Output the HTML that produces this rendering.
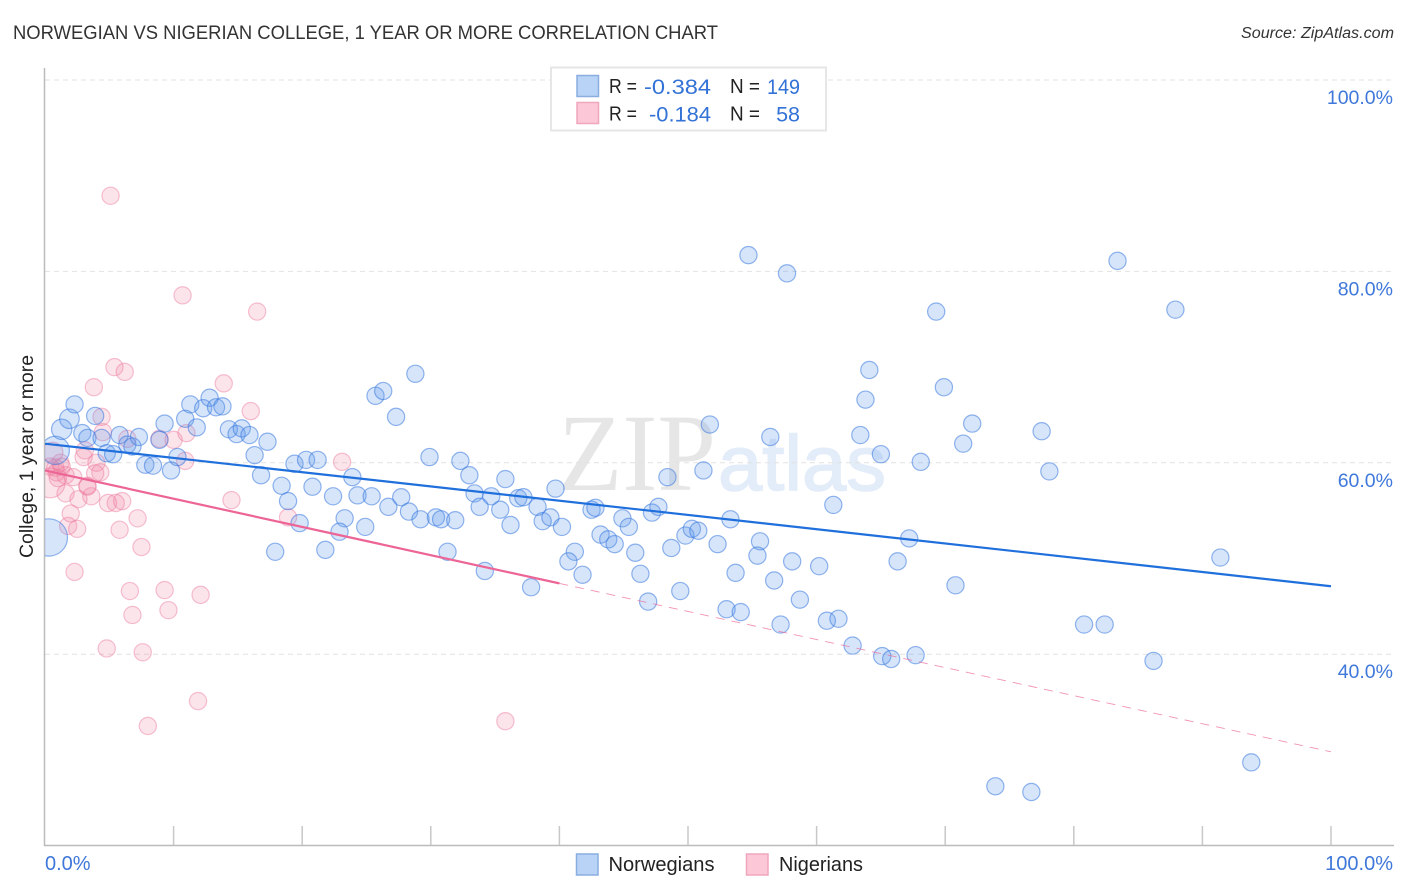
<!DOCTYPE html>
<html lang="en">
<head>
<meta charset="utf-8">
<title>Norwegian vs Nigerian College Correlation Chart</title>
<style>
html,body{margin:0;padding:0;background:#fff;}
body{width:1406px;height:892px;overflow:hidden;}
svg{display:block;font-family:"Liberation Sans",sans-serif;}
</style>
</head>
<body>
<svg id="chart" xmlns="http://www.w3.org/2000/svg" width="1406" height="892" viewBox="0 0 1406 892">
  <defs>
    <clipPath id="plot-clip"><rect x="45" y="60" width="1349" height="785"/></clipPath>
  </defs>
  <rect x="0" y="0" width="1406" height="892" fill="#ffffff"/>
  <text x="13" y="39" font-size="19" fill="#333333" textLength="705" lengthAdjust="spacingAndGlyphs">NORWEGIAN VS NIGERIAN COLLEGE, 1 YEAR OR MORE CORRELATION CHART</text>
  <text x="1394" y="38" font-size="15.5" font-style="italic" fill="#333333" text-anchor="end" textLength="153" lengthAdjust="spacingAndGlyphs">Source: ZipAtlas.com</text>
  <g>
    <text x="558" y="490" font-family="'Liberation Serif',serif" font-size="110" fill="#e6e6e6" textLength="158" lengthAdjust="spacingAndGlyphs">ZIP</text>
    <text x="718" y="490" font-size="78" fill="#e3ecf9" stroke="#e3ecf9" stroke-width="1.5" textLength="168" lengthAdjust="spacingAndGlyphs">atlas</text>
  </g>
  <g id="grid"></g>
  <g id="axes"></g>
  <g id="points" clip-path="url(#plot-clip)"></g>
  <g id="trends"></g>
  <text transform="translate(33,456.5) rotate(-90)" font-size="19.5" fill="#222222" text-anchor="middle" textLength="203" lengthAdjust="spacingAndGlyphs">College, 1 year or more</text>

  <g>
    <rect x="551" y="67.5" width="275" height="63" fill="#ffffff" stroke="#e6e6e6" stroke-width="2"/>
    <rect x="577" y="75.5" width="21.500" height="21" fill="#b8d3f6" stroke="#8aaee0" stroke-width="1.5"/>
    <rect x="577" y="102.500" width="21.500" height="21" fill="#fcc8d8" stroke="#f0a6bd" stroke-width="1.5"/>
    <g font-size="21">
      <text x="609" y="93" font-size="20" fill="#222222" textLength="28" lengthAdjust="spacingAndGlyphs">R =</text>
      <text x="644" y="94" fill="#3372d6" font-size="21.500" textLength="67" lengthAdjust="spacingAndGlyphs">-0.384</text>
      <text x="730" y="93" font-size="20" fill="#222222" textLength="30" lengthAdjust="spacingAndGlyphs">N =</text>
      <text x="767" y="94" fill="#3372d6" font-size="21.500" textLength="33" lengthAdjust="spacingAndGlyphs">149</text>
      <text x="609" y="120.500" font-size="20" fill="#222222" textLength="28" lengthAdjust="spacingAndGlyphs">R =</text>
      <text x="649" y="121.500" fill="#3372d6" font-size="21.500" textLength="62" lengthAdjust="spacingAndGlyphs">-0.184</text>
      <text x="730" y="120.500" font-size="20" fill="#222222" textLength="30" lengthAdjust="spacingAndGlyphs">N =</text>
      <text x="800" y="121.500" fill="#3372d6" text-anchor="end" font-size="21.500">58</text>
    </g>
  </g>

  <g>
    <rect x="576.500" y="854" width="21.500" height="21" fill="#b8d3f6" stroke="#8aaee0" stroke-width="1.5"/>
    <text x="608.500" y="871" font-size="20" fill="#222222" textLength="106" lengthAdjust="spacingAndGlyphs">Norwegians</text>
    <rect x="746.500" y="854" width="21.500" height="21" fill="#fcc8d8" stroke="#f0a6bd" stroke-width="1.5"/>
    <text x="779" y="871" font-size="20" fill="#222222" textLength="84" lengthAdjust="spacingAndGlyphs">Nigerians</text>
  </g>
</svg>
<script>
const yTickValues = [100, 80, 60, 40];
const yTickLabels = ['100.0%', '80.0%', '60.0%', '40.0%'];
const xTickValues = [10, 20, 30, 40, 50, 60, 70, 80, 90, 100];
const xEndValues = [0, 100];
const xEndLabels = ['0.0%', '100.0%'];

const norwegianX = [0.3,0.8,1.3,1.9,2.3,2.9,3.3,3.9,4.4,4.8,5.3,5.8,6.4,6.8,7.3,7.8,8.4,8.9,9.3,9.8,10.3,10.9,11.3,11.8,12.3,12.8,13.3,13.8,14.3,14.9,15.3,15.9,16.3,17.3,16.8,18.4,18.9,19.4,20.3,21.2,20.8,22.4,23.3,22.9,19.8,17.9,21.8,23.9,25.7,26.3,27.3,29.9,32.3,33.0,35.8,39.7,48.4,51.2,24.3,25.4,26.7,27.7,28.3,29.2,30.4,30.8,31.9,33.4,34.7,33.8,35.4,36.2,36.8,37.2,38.3,38.7,39.3,40.2,42.5,42.8,44.9,45.4,47.2,47.7,43.2,43.8,44.3,45.9,46.3,48.7,49.8,50.3,50.8,49.4,46.9,41.8,41.2,40.7,37.8,34.2,31.3,24.9,53.3,52.3,55.6,55.4,53.7,58.1,56.7,60.2,58.7,53.0,54.1,57.2,60.8,61.7,62.8,65.1,65.8,67.7,66.3,67.2,61.3,68.1,65.0,63.4,63.8,64.1,56.4,51.7,69.9,69.3,54.7,57.7,83.4,87.9,72.1,71.4,77.5,78.1,70.8,80.8,82.4,86.2,91.4,93.8,73.9,76.7,28.8];
const norwegianY = [52.2,61.3,63.5,64.6,66.1,63.1,62.6,64.9,62.6,61.0,60.9,62.9,61.9,61.7,62.7,59.8,59.7,62.4,64.1,59.2,60.6,64.6,66.1,63.7,65.7,66.8,65.8,65.9,63.5,63.0,63.6,62.9,60.8,62.2,58.7,57.6,56.0,59.9,60.3,60.3,57.5,56.5,54.2,52.8,53.7,50.7,50.9,58.5,67.0,67.5,64.8,60.6,60.2,58.7,58.3,57.3,58.5,59.2,56.6,56.5,55.4,56.4,54.9,54.1,54.3,54.1,54.0,56.8,56.5,55.4,55.1,53.5,56.3,56.4,55.4,53.9,54.3,53.3,55.1,55.3,54.2,53.3,54.8,55.4,52.5,52.0,51.5,50.6,48.4,51.1,52.4,53.1,52.9,46.6,45.5,48.3,50.7,49.7,47.0,48.7,50.7,53.3,54.1,51.5,51.8,50.3,48.5,49.7,47.7,49.2,45.7,44.7,44.4,43.1,43.5,43.7,40.9,39.8,39.5,39.9,49.7,52.1,55.6,60.1,60.9,62.9,66.6,69.7,62.7,64.0,67.9,75.8,81.7,79.8,81.1,76.0,64.1,62.0,63.3,59.1,47.2,43.1,43.1,39.3,50.1,28.7,26.2,25.6,69.3];
const norwegianWeights = [4.7,2.7,1.4,1.3];

const nigerianX = [5.4,6.2,3.8,13.9,16.0,4.4,4.5,3.1,3.0,0.6,6.4,8.9,10.0,11.0,10.9,23.1,4.0,4.3,3.9,0.4,0.8,1.3,0.9,0.4,1.6,1.0,2.2,1.6,3.3,2.6,3.6,4.9,5.5,6.0,7.2,5.8,7.5,14.5,18.9,2.0,1.8,2.5,2.3,6.6,9.3,12.1,5.1,10.7,16.5,6.8,9.6,4.8,7.6,11.9,8.0,35.8,1.2,3.3];
const nigerianY = [70.0,69.5,67.9,68.3,65.4,64.8,63.2,61.3,60.6,61.1,62.5,62.5,62.4,63.1,60.2,60.1,60.0,59.0,58.9,59.6,59.5,59.6,59.0,57.9,58.7,58.4,58.5,56.8,57.5,56.2,56.5,55.8,55.8,56.0,54.2,53.0,51.2,56.1,54.3,54.7,53.4,53.1,48.6,46.6,46.7,46.2,87.9,77.5,75.8,44.1,44.6,40.6,40.2,35.1,32.5,33.0,60.0,57.6];
const nigerianWeights = [1,1,1,1,1,1,1,1,1,1.4,1,1,1,1,1,1,1,1,1,1,1,1,1,3];

const norwegianTrendX = [0, 100];
const norwegianTrendY = [62.0, 47.1];
const nigerianTrendX = [0, 40, 100];
const nigerianTrendY = [59.2, 47.4, 29.8];

const NS = 'http://www.w3.org/2000/svg';
function xScale(v) { return 45 + v * 12.86; }
function yScale(v) { return 80 + (100 - v) * 9.57; }
function make(tag, attrs, parent) {
  const el = document.createElementNS(NS, tag);
  for (const k in attrs) el.setAttribute(k, attrs[k]);
  parent.appendChild(el);
  return el;
}
const gridG = document.getElementById('grid');
const axesG = document.getElementById('axes');
const pointsG = document.getElementById('points');
const trendsG = document.getElementById('trends');

yTickValues.forEach(function (v, i) {
  const line = make('line', {x1: 45, x2: 1394, y1: yScale(v), y2: yScale(v), stroke: '#e2e2e2', 'stroke-width': 1, 'stroke-dasharray': '5 4'}, gridG);
  
  
  const label = make('text', {x: 1393, y: yScale(v) + 24, 'font-size': 19.5, fill: '#3f78da', 'text-anchor': 'end'}, axesG);
  label.textContent = yTickLabels[i];
  
  
});

const yAxis = make('line', {x1: 44.5, x2: 44.5, y1: 68, y2: 846, stroke: '#bbbbbb', 'stroke-width': 1.5}, axesG);


const xAxis = make('line', {x1: 44, x2: 1394, y1: 845.5, y2: 845.5, stroke: '#bbbbbb', 'stroke-width': 1.5}, axesG);



xTickValues.forEach(function (v) {
  const tick = make('line', {x1: xScale(v), x2: xScale(v), y1: 826, y2: 845, stroke: '#c8c8c8', 'stroke-width': 1.5}, axesG);
  
  
});
xEndValues.forEach(function (v, i) {
  const label = make('text', {x: i === 0 ? xScale(v) : 1393, y: 870, 'font-size': 20, fill: '#3f78da', 'text-anchor': i === 0 ? 'start' : 'end'}, axesG);
  label.textContent = xEndLabels[i];
  
  
});

function radius(weights, i) { return 8.6 * Math.sqrt(weights[i] || 1); }

nigerianX.forEach(function (x, i) {
  const c = make('circle', {cx: xScale(x), cy: yScale(nigerianY[i]), r: radius(nigerianWeights, i), fill: 'rgba(243,130,165,0.22)', stroke: 'rgba(236,120,155,0.45)', 'stroke-width': 1.2}, pointsG);
  
  
});
norwegianX.forEach(function (x, i) {
  const c = make('circle', {cx: xScale(x), cy: yScale(norwegianY[i]), r: radius(norwegianWeights, i), fill: 'rgba(90,150,235,0.25)', stroke: 'rgba(50,115,220,0.52)', 'stroke-width': 1.2}, pointsG);
  
  
});

const blueTrend = make('line', {x1: xScale(norwegianTrendX[0]), y1: yScale(norwegianTrendY[0]), x2: xScale(norwegianTrendX[1]), y2: yScale(norwegianTrendY[1]), stroke: '#1f6fdc', 'stroke-width': 2.2}, trendsG);


const pinkTrend = make('line', {x1: xScale(nigerianTrendX[0]), y1: yScale(nigerianTrendY[0]), x2: xScale(nigerianTrendX[1]), y2: yScale(nigerianTrendY[1]), stroke: '#ec6596', 'stroke-width': 2.2}, trendsG);


const pinkDash = make('line', {x1: xScale(nigerianTrendX[1]), y1: yScale(nigerianTrendY[1]), x2: xScale(nigerianTrendX[2]), y2: yScale(nigerianTrendY[2]), stroke: '#ec6596', 'stroke-width': 0.9, 'stroke-dasharray': '9 7', opacity: 0.7}, trendsG);


</script>
</body>
</html>
